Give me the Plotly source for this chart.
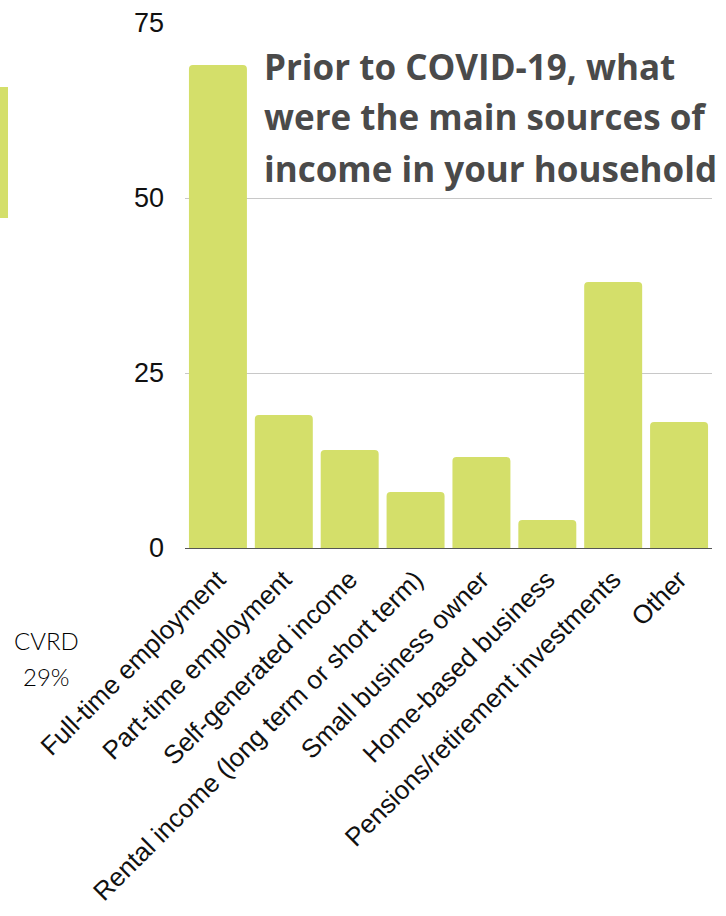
import plotly.graph_objects as go

categories = [
    "Full-time employment",
    "Part-time employment",
    "Self-generated income",
    "Rental income (long term or short term)",
    "Small business owner",
    "Home-based business",
    "Pensions/retirement investments",
    "Other",
]
values = [69, 19, 14, 8, 13, 4, 38, 18]
y_ticks = [0, 25, 50, 75]
title_lines = ["Prior to COVID-19, what", "were the main sources of", "income in your household"]
side_label = ["CVRD", "29%"]

BAR = "#d4df6a"
W, H = 726, 916
L, R, T, B = 185, 14, 23, 368
PW, PH = W - L - R, H - T - B

def px_x(x):
    return (x - L) / PW

def px_y(y):
    return (H - B - y) / PH

fig = go.Figure(go.Bar(
    x=categories, y=values,
    marker=dict(color=BAR, line=dict(width=0)),
    hoverinfo="skip",
))

fig.update_layout(
    width=W, height=H,
    margin=dict(l=L, r=R, t=T, b=B, autoexpand=False),
    paper_bgcolor="white", plot_bgcolor="white",
    bargap=0.12,
    barcornerradius=4,
    showlegend=False,
    xaxis=dict(
        tickangle=-45, automargin=False,
        tickfont=dict(family="Liberation Sans", size=26, color="#111"),
        showline=True, linecolor="#555", linewidth=1, layer="below traces",
        showgrid=False, ticks="", ticklabelstandoff=5,
    ),
    yaxis=dict(
        range=[0, 75], tickvals=y_ticks, automargin=False,
        tickfont=dict(family="Liberation Sans", size=27, color="#111"),
        gridcolor="#c8c8c8", gridwidth=1, zeroline=False,
        ticklabelstandoff=20, ticks="",
    ),
)

centers = [66, 117, 168]
for line, cy in zip(title_lines, centers):
    fig.add_annotation(
        text=line, xref="paper", yref="paper",
        x=px_x(262), y=px_y(cy), xanchor="left", yanchor="middle",
        showarrow=False,
        font=dict(family="Open Sans", size=35, color="#4a4a4a", weight="bold"),
    )

for txt, cy in zip(side_label, [640, 676]):
    fig.add_annotation(
        text=txt, xref="paper", yref="paper",
        x=px_x(46), y=px_y(cy), xanchor="center", yanchor="middle",
        showarrow=False,
        font=dict(family="Lato", size=24, color="#000", weight=300),
    )

fig.add_shape(
    type="rect", xref="paper", yref="paper",
    x0=px_x(0), x1=px_x(8), y0=px_y(218), y1=px_y(87),
    fillcolor=BAR, line=dict(width=0),
)

fig.write_html("out.html")
